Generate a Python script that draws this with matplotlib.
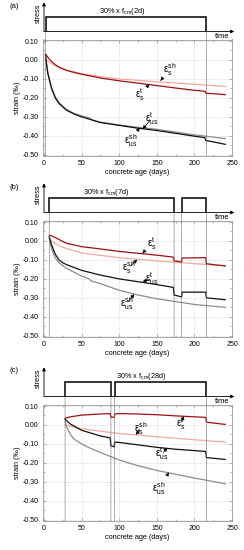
import matplotlib
matplotlib.use("Agg")
import matplotlib.pyplot as plt
from matplotlib.patches import ConnectionPatch
from matplotlib.ticker import MultipleLocator, FormatStrFormatter

plt.rcParams['font.family'] = ['Liberation Sans', 'DejaVu Sans']
plt.rcParams['axes.unicode_minus'] = False
plt.rcParams['mathtext.fontset'] = 'custom'
plt.rcParams['mathtext.rm'] = 'Liberation Sans'
plt.rcParams['mathtext.it'] = 'Liberation Sans'

# ---------------- data ----------------
PANEL_LABELS = ["(a)", "(b)", "(c)"]
LOAD_TITLES = [r"30% x f$_{\mathrm{cm}}$(2d)", r"30% x f$_{\mathrm{cm}}$(7d)", r"30% x f$_{\mathrm{cm}}$(28d)"]
LOAD_A = [(2, 216)]
LOAD_B = [(7, 173), (183, 216)]
LOAD_C = [(28, 89), (94, 216)]

# panel (a)
A_ST_X = [2, 4, 7, 10, 15, 20, 30, 40, 50, 75, 100, 125, 150, 175, 200, 214, 215, 225, 241]
A_ST_Y = [0.03, 0.02, 0.005, -0.008, -0.025, -0.038, -0.055, -0.066, -0.075, -0.095, -0.11, -0.122, -0.135, -0.148, -0.16, -0.165, -0.175, -0.178, -0.183]
A_SSH_X = [2, 5, 10, 20, 30, 50, 75, 100, 150, 200, 241]
A_SSH_Y = [0.008, -0.005, -0.02, -0.04, -0.053, -0.072, -0.088, -0.1, -0.115, -0.128, -0.14]
A_UST_X = [2, 3, 5, 7.5, 10, 15, 20, 30, 40, 50, 75, 100, 125, 150, 175, 200, 214, 215, 225, 241]
A_UST_Y = [0.03, -0.01, -0.07, -0.11, -0.15, -0.2, -0.23, -0.265, -0.285, -0.30, -0.33, -0.345, -0.36, -0.372, -0.387, -0.402, -0.41, -0.425, -0.432, -0.445]
A_USH_X = [2, 3, 5, 7.5, 10, 15, 20, 30, 40, 50, 60, 65, 75, 100, 125, 150, 175, 200, 215, 241]
A_USH_Y = [0.02, -0.01, -0.065, -0.105, -0.145, -0.195, -0.225, -0.262, -0.282, -0.295, -0.305, -0.318, -0.328, -0.343, -0.355, -0.366, -0.38, -0.395, -0.402, -0.415]

# panel (b)
B_ST_X = [7, 10, 15, 20, 25, 30, 50, 75, 100, 125, 150, 172, 173, 183, 183.5, 215, 216, 230, 241]
B_ST_Y = [0.03, 0.027, 0.018, 0.008, -0.003, -0.012, -0.03, -0.042, -0.055, -0.065, -0.075, -0.085, -0.105, -0.11, -0.09, -0.088, -0.12, -0.127, -0.132]
B_SSH_X = [7, 10, 20, 30, 50, 75, 100, 125, 150, 175, 200, 241]
B_SSH_Y = [0.02, 0.0, -0.025, -0.04, -0.063, -0.076, -0.088, -0.097, -0.105, -0.112, -0.12, -0.13]
B_UST_X = [7, 10, 15, 20, 25, 30, 50, 75, 100, 125, 150, 172, 173, 183, 183.5, 215, 216, 241]
B_UST_Y = [0.02, -0.02, -0.07, -0.1, -0.115, -0.125, -0.155, -0.18, -0.2, -0.215, -0.23, -0.245, -0.285, -0.295, -0.27, -0.27, -0.3, -0.31]
B_USH_X = [7, 10, 15, 20, 30, 50, 60, 62, 75, 100, 125, 150, 175, 200, 241]
B_USH_Y = [0.02, -0.04, -0.09, -0.115, -0.145, -0.185, -0.2, -0.21, -0.225, -0.26, -0.285, -0.305, -0.32, -0.335, -0.35]

# panel (c)
C_ST_X = [28, 35, 50, 75, 88, 89, 93.5, 94, 100, 125, 150, 175, 200, 215, 216, 230, 241]
C_ST_Y = [0.035, 0.043, 0.052, 0.058, 0.06, 0.04, 0.042, 0.058, 0.06, 0.058, 0.054, 0.048, 0.043, 0.04, 0.015, 0.008, 0.003]
C_SSH_X = [28, 40, 50, 75, 100, 125, 150, 175, 200, 241]
C_SSH_Y = [0.0, -0.012, -0.02, -0.033, -0.045, -0.053, -0.062, -0.07, -0.078, -0.09]
C_UST_X = [28, 35, 50, 75, 88, 89, 93.5, 94, 100, 125, 150, 175, 200, 215, 216, 241]
C_UST_Y = [0.03, 0.005, -0.028, -0.058, -0.068, -0.11, -0.115, -0.09, -0.092, -0.105, -0.118, -0.128, -0.135, -0.14, -0.172, -0.182]
C_USH_X = [28, 30, 35, 40, 50, 60, 75, 100, 125, 150, 175, 200, 241]
C_USH_Y = [0.02, -0.01, -0.05, -0.075, -0.1, -0.12, -0.145, -0.185, -0.215, -0.24, -0.26, -0.28, -0.31]

# annotation: (label, text_x, text_y, arrow_x, arrow_y)
LAB_S_SH = r"$\varepsilon_{\mathrm{s}}^{\mathrm{sh}}$"
LAB_S_T = r"$\varepsilon_{\mathrm{s}}^{\mathrm{t}}$"
LAB_US_T = r"$\varepsilon_{\mathrm{us}}^{\mathrm{t}}$"
LAB_US_SH = r"$\varepsilon_{\mathrm{us}}^{\mathrm{sh}}$"
ANN_A = [(LAB_S_SH, 167, -0.05, 155, -0.109), (LAB_S_T, 127, -0.185, 140, -0.128),
         (LAB_US_T, 143, -0.31, 131, -0.365), (LAB_US_SH, 116, -0.425, 127, -0.357)]
ANN_B = [(LAB_S_T, 143, -0.015, 131, -0.065), (LAB_S_SH, 113, -0.14, 124, -0.098),
         (LAB_US_T, 143, -0.2, 131, -0.215), (LAB_US_SH, 110, -0.33, 120, -0.28)]
ANN_C = [(LAB_S_SH, 129, -0.018, 122, -0.052), (LAB_S_T, 182, 0.005, 186, 0.047),
         (LAB_US_T, 157, -0.152, 164, -0.12), (LAB_US_SH, 153, -0.335, 166, -0.25)]

C_RED = "#a01010"
C_PINK = "#f3aaa0"
C_BLACK = "#111111"
C_GRAY = "#8c8c8c"
FRAME = "#9a9a9a"

XLIM = (-2, 250)
YLIM = (-0.505, 0.108)

fig = plt.figure(figsize=(2.44, 5.5), dpi=100)
W, H = 244.0, 550.0

def fx(px):
    return px / W

def fy(py):
    return 1 - py / H

panels = [
    (0, LOAD_A, [(A_SSH_X, A_SSH_Y, C_PINK), (A_USH_X, A_USH_Y, C_GRAY), (A_ST_X, A_ST_Y, C_RED), (A_UST_X, A_UST_Y, C_BLACK)], ANN_A),
    (181, LOAD_B, [(B_SSH_X, B_SSH_Y, C_PINK), (B_USH_X, B_USH_Y, C_GRAY), (B_ST_X, B_ST_Y, C_RED), (B_UST_X, B_UST_Y, C_BLACK)], ANN_B),
    (365, LOAD_C, [(C_SSH_X, C_SSH_Y, C_PINK), (C_USH_X, C_USH_Y, C_GRAY), (C_ST_X, C_ST_Y, C_RED), (C_UST_X, C_UST_Y, C_BLACK)], ANN_C),
]
title_x = [104, 83, 130]

for i, (off, loads, series, anns) in enumerate(panels):
    left, right = 42.5, 232.0
    top, bot = 39.5 + off, 155.7 + off
    ax = fig.add_axes([fx(left), fy(bot), fx(right - left), (bot - top) / H])
    s_top, s_bot = 3.0 + off, 31.5 + off
    sax = fig.add_axes([fx(left), fy(s_bot), fx(right - left), (s_bot - s_top) / H])

    # stress diagram
    sax.set_xlim(XLIM)
    sax.set_ylim(0, 2)
    sax.axis('off')
    sax.annotate('', xy=(253, 0), xytext=(0, 0), annotation_clip=False,
                 arrowprops=dict(arrowstyle='-|>', color='black', lw=0.6, mutation_scale=5, shrinkA=0, shrinkB=0))
    sax.annotate('', xy=(0, 2.05), xytext=(0, 0), annotation_clip=False,
                 arrowprops=dict(arrowstyle='-|>', color='black', lw=0.6, mutation_scale=5, shrinkA=0, shrinkB=0))
    for (t0, t1) in loads:
        sax.plot([t0, t0, t1, t1], [0, 1, 1, 0], color='black', lw=1.1, solid_joinstyle='miter')
    sax.text(title_x[i], 1.04, LOAD_TITLES[i], ha='center', va='bottom', fontsize=5.3)
    sax.text(247, -0.12, 'time', ha='right', va='top', fontsize=5.5)
    sax.text(-8, 1.25, 'stress', ha='center', va='center', rotation=90, fontsize=5.2)
    fig.text(fx(9), fy(6 + off), PANEL_LABELS[i], ha='left', va='center', fontsize=5.5)

    # main axes
    ax.set_xlim(XLIM)
    ax.set_ylim(YLIM)
    for sp in ax.spines.values():
        sp.set_color(FRAME)
        sp.set_linewidth(0.6)
    ax.xaxis.set_major_locator(MultipleLocator(50))
    ax.xaxis.set_minor_locator(MultipleLocator(25))
    ax.yaxis.set_major_locator(MultipleLocator(0.1))
    ax.yaxis.set_minor_locator(MultipleLocator(0.05))
    ax.yaxis.set_major_formatter(FormatStrFormatter('%.2f'))
    ax.tick_params(which='both', direction='in', top=True, right=True, color=FRAME, width=0.5)
    ax.tick_params(which='major', length=2.5, labelsize=5.0, pad=3)
    ax.tick_params(which='minor', length=1.5)
    ax.grid(True, which='major', linestyle=(0, (1, 1.5)), color='#c8c8c8', lw=0.5)
    ax.set_axisbelow(True)
    ax.set_xlabel('concrete age (days)', fontsize=5.3, labelpad=1.5)
    ax.set_ylabel('strain (‰)', fontsize=5.3, labelpad=1)

    for (xs, ys, c) in series:
        ax.plot(xs, ys, color=c, lw=0.9)

    # event lines
    events = sorted(set([t for ld in loads for t in ld]))
    for t in events:
        con = ConnectionPatch(xyA=(t, 0), coordsA=sax.transData, xyB=(t, YLIM[0]), coordsB=ax.transData,
                              linestyle=(0, (1, 1.2)), color='#666666', lw=0.5)
        fig.add_artist(con)

    for (lab, tx, ty, axx, axy) in anns:
        ax.annotate(lab, xy=(axx, axy), xytext=(tx, ty), ha='center', va='center', fontsize=7,
                    arrowprops=dict(arrowstyle='-|>', color='black', lw=0.55, mutation_scale=5, shrinkA=1.5, shrinkB=0))

fig.savefig('out.png', dpi=100)
